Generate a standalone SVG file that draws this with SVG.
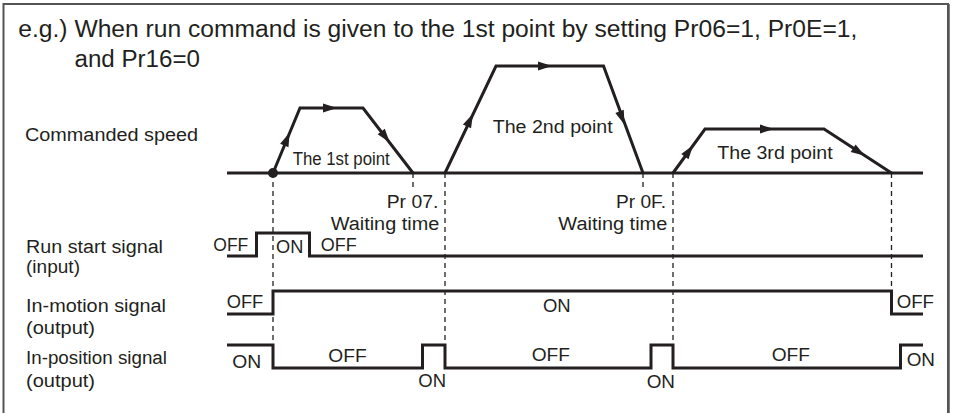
<svg xmlns="http://www.w3.org/2000/svg" xmlns:xlink="http://www.w3.org/1999/xlink" width="953" height="413" viewBox="0 0 953 413">
<style>
text{font-family:"Liberation Sans",Arial,sans-serif;fill:#231f20;font-size:18.8px}
.title{font-size:23.5px}
.sig{fill:none;stroke:#231f20;stroke-width:3;stroke-linejoin:miter}
.dash{fill:none;stroke:#231f20;stroke-width:1.3;stroke-dasharray:5,4}
.ah{fill:#231f20}
</style>
<defs>
<path id="ah" d="M7,0 L-7,-4.5 L-7,4.5 Z"/>
</defs>
<rect x="3.5" y="4" width="944.5" height="420" fill="#fff" stroke="#555" stroke-width="2"/>
<line x1="948.5" y1="4" x2="948.5" y2="413" stroke="#555" stroke-width="2.5"/>
<g id="title">
<text class="title" x="18.3" y="37" textLength="839" lengthAdjust="spacingAndGlyphs">e.g.) When run command is given to the 1st point by setting Pr06=1, Pr0E=1,</text>
<text class="title" x="74.5" y="67" textLength="125.5" lengthAdjust="spacingAndGlyphs">and Pr16=0</text>
</g>
<g id="labels">
<text x="25" y="141" textLength="173" lengthAdjust="spacingAndGlyphs">Commanded speed</text>
<text x="26" y="253" textLength="137" lengthAdjust="spacingAndGlyphs">Run start signal</text>
<text x="26" y="273" textLength="54" lengthAdjust="spacingAndGlyphs">(input)</text>
<text x="26" y="311.5" textLength="140" lengthAdjust="spacingAndGlyphs">In-motion signal</text>
<text x="26" y="334" textLength="69" lengthAdjust="spacingAndGlyphs">(output)</text>
<text x="26" y="363.5" textLength="141" lengthAdjust="spacingAndGlyphs">In-position signal</text>
<text x="26" y="387" textLength="69" lengthAdjust="spacingAndGlyphs">(output)</text>
</g>
<g id="connectors">
<line class="dash" x1="273" y1="173" x2="273" y2="345"/>
<line class="dash" x1="413" y1="173" x2="413" y2="191"/>
<line class="dash" x1="445" y1="173" x2="445" y2="345"/>
<line class="dash" x1="643" y1="173" x2="643" y2="191"/>
<line class="dash" x1="673" y1="173" x2="673" y2="345"/>
<line class="dash" x1="891.5" y1="173" x2="891.5" y2="291"/>
</g>
<g id="speed">
<line class="sig" x1="227" y1="173" x2="923" y2="173"/>
<polyline class="sig" points="273,173 300,108 363,108 413,173"/>
<polyline class="sig" points="445,173 496,66 603.5,66 643,173"/>
<polyline class="sig" points="673,173 705,129 824,129 891.5,173"/>
<circle cx="273" cy="173" r="5" fill="#231f20"/>
<use xlink:href="#ah" class="ah" transform="translate(287,139) rotate(-67.4)"/>
<use xlink:href="#ah" class="ah" transform="translate(330,108)"/>
<use xlink:href="#ah" class="ah" transform="translate(385.5,137) rotate(52.4)"/>
<use xlink:href="#ah" class="ah" transform="translate(470,120) rotate(-64.5)"/>
<use xlink:href="#ah" class="ah" transform="translate(545,66)"/>
<use xlink:href="#ah" class="ah" transform="translate(622,118) rotate(69.7)"/>
<use xlink:href="#ah" class="ah" transform="translate(689,151) rotate(-54)"/>
<use xlink:href="#ah" class="ah" transform="translate(767,129)"/>
<use xlink:href="#ah" class="ah" transform="translate(859,152) rotate(33.3)"/>
<text x="292.7" y="165" textLength="97" lengthAdjust="spacingAndGlyphs">The 1st point</text>
<text x="492.7" y="132.7" textLength="120" lengthAdjust="spacingAndGlyphs">The 2nd point</text>
<text x="717.3" y="159.3" textLength="115.4" lengthAdjust="spacingAndGlyphs">The 3rd point</text>
<text x="386.7" y="208.3" textLength="51.6" lengthAdjust="spacingAndGlyphs">Pr 07.</text>
<text x="330.7" y="230" textLength="108.6" lengthAdjust="spacingAndGlyphs">Waiting time</text>
<text x="616" y="208.3" textLength="50" lengthAdjust="spacingAndGlyphs">Pr 0F.</text>
<text x="558.3" y="230" textLength="109" lengthAdjust="spacingAndGlyphs">Waiting time</text>
</g>
<g id="run-start">
<polyline class="sig" points="227,256 256.5,256 256.5,233 309.5,233 309.5,256 923,256"/>
<text x="213.3" y="251" textLength="35" lengthAdjust="spacingAndGlyphs">OFF</text>
<text x="276" y="252.7" textLength="27.3" lengthAdjust="spacingAndGlyphs">ON</text>
<text x="320.7" y="251" textLength="36" lengthAdjust="spacingAndGlyphs">OFF</text>
</g>
<g id="in-motion">
<polyline class="sig" points="227,314 273,314 273,291 891.5,291 891.5,314 923,314"/>
<text x="226.7" y="308.3" textLength="36.6" lengthAdjust="spacingAndGlyphs">OFF</text>
<text x="543" y="311.7" textLength="27.7" lengthAdjust="spacingAndGlyphs">ON</text>
<text x="896.7" y="308.3" textLength="37.3" lengthAdjust="spacingAndGlyphs">OFF</text>
</g>
<g id="in-position">
<polyline class="sig" points="227,345 273,345 273,368 422.5,368 422.5,345 445,345 445,368 651,368 651,345 673,345 673,368 900.5,368 900.5,345 923,345"/>
<text x="232.3" y="367.7" textLength="29" lengthAdjust="spacingAndGlyphs">ON</text>
<text x="328.3" y="361.7" textLength="38.4" lengthAdjust="spacingAndGlyphs">OFF</text>
<text x="418.3" y="387.3" textLength="27.7" lengthAdjust="spacingAndGlyphs">ON</text>
<text x="531.7" y="360.7" textLength="38.3" lengthAdjust="spacingAndGlyphs">OFF</text>
<text x="646.7" y="388.3" textLength="28.3" lengthAdjust="spacingAndGlyphs">ON</text>
<text x="771.7" y="360.7" textLength="38.3" lengthAdjust="spacingAndGlyphs">OFF</text>
<text x="906.7" y="366" textLength="28.3" lengthAdjust="spacingAndGlyphs">ON</text>
</g>
</svg>
